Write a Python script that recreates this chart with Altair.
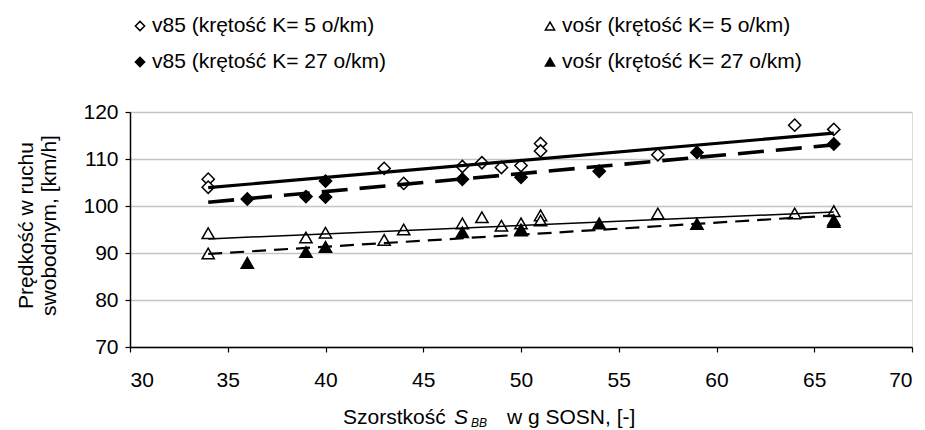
import altair as alt
import pandas as pd

# ---- data ----
x_v85_k5 = [34, 34, 43, 44, 47, 48, 49, 50, 51, 51, 57, 64, 66]
y_v85_k5 = [105.7, 104.0, 108.0, 104.8, 108.4, 109.2, 108.2, 108.6, 113.3, 111.7, 110.9, 117.2, 116.3]

x_v85_k27 = [36, 39, 40, 40, 47, 50, 54, 59, 66]
y_v85_k27 = [101.5, 102.0, 105.3, 101.9, 105.7, 106.1, 107.4, 111.4, 113.2]

x_vosr_k5 = [34, 34, 39, 40, 43, 44, 47, 48, 49, 50, 51, 51, 57, 64, 66]
y_vosr_k5 = [94.2, 89.9, 93.3, 94.3, 92.8, 95.0, 96.3, 97.6, 95.8, 96.3, 98.0, 96.9, 98.4, 98.4, 98.9]

x_vosr_k27 = [36, 39, 40, 47, 50, 50, 54, 59, 66, 66]
y_vosr_k27 = [87.9, 90.2, 91.3, 94.4, 95.0, 94.8, 96.3, 96.2, 97.0, 96.6]

trend_x = [34, 66]
trend_v85_k5 = [103.9, 115.5]
trend_v85_k27 = [100.8, 113.0]
trend_vosr_k5 = [93.0, 98.7]
trend_vosr_k27 = [89.8, 98.0]

legend_labels = [
    "v85 (krętość K= 5 o/km)",
    "vośr (krętość K= 5 o/km)",
    "v85 (krętość K= 27 o/km)",
    "vośr (krętość K= 27 o/km)",
]
y_title_lines = ["Prędkość w ruchu", "swobodnym, [km/h]"]
x_title_parts = ["Szorstkość", "S", "BB", "w g SOSN, [-]"]
x_ticks = [30, 35, 40, 45, 50, 55, 60, 65, 70]
y_ticks = [70, 80, 90, 100, 110, 120]

FONT = "Liberation Sans"
FS = 21
W, H = 782, 235

xs = alt.Scale(domain=[30, 70], nice=False, zero=False)
ys = alt.Scale(domain=[70, 120], nice=False, zero=False)

def pts(xv, yv):
    return pd.DataFrame({"x": xv, "y": yv})

X = alt.X("x:Q", scale=xs, axis=alt.Axis(values=x_ticks, title=None, grid=False, tickSize=5,
          tickColor="black", domainColor="black", domainWidth=1.5, tickWidth=1.2,
          labelFont=FONT, labelFontSize=FS, labelColor="black", labelPadding=17))
Y = alt.Y("y:Q", scale=ys, axis=alt.Axis(values=y_ticks, title=None, grid=True, gridColor="#c4c4c4",
          gridWidth=1.5, tickSize=5, tickColor="black", domainColor="black", domainWidth=1.5,
          tickWidth=1.2, labelFont=FONT, labelFontSize=FS, labelColor="black", labelPadding=7))

def line(yv, width, dash=None):
    kw = dict(color="black", strokeWidth=width, clip=False)
    if dash:
        kw["strokeDash"] = dash
    return alt.Chart(pts(trend_x, yv)).mark_line(**kw).encode(x=X, y=Y)

def marker(xv, yv, shape, filled, size):
    return alt.Chart(pts(xv, yv)).mark_point(
        shape=shape, size=size, filled=True, opacity=1,
        fill="black" if filled else "white", stroke="black", strokeWidth=1.5
    ).encode(x=X, y=Y)

layers = [
    marker(x_v85_k5, y_v85_k5, "diamond", False, 150),
    marker(x_v85_k27, y_v85_k27, "diamond", True, 150),
    marker(x_vosr_k5, y_vosr_k5, "triangle-up", False, 150),
    marker(x_vosr_k27, y_vosr_k27, "triangle-up", True, 150),
    line(trend_v85_k5, 3.2),
    line(trend_v85_k27, 3.6, [26, 12]),
    line(trend_vosr_k5, 1.5),
    line(trend_vosr_k27, 2.2, [14, 8]),
]

one = pd.DataFrame({"a": [0]})

def txt(t, x, y, size=FS, align="left", angle=0, italic=False, baseline="middle"):
    kw = dict(text=t, font=FONT, fontSize=size, color="black", align=align, baseline=baseline)
    if angle:
        kw["angle"] = angle
    if italic:
        kw["fontStyle"] = "italic"
    return alt.Chart(one).mark_text(**kw).encode(x=alt.value(x), y=alt.value(y))

def sym(shape, filled, x, y):
    return alt.Chart(one).mark_point(
        shape=shape, size=85, filled=True, opacity=1,
        fill="black" if filled else "white", stroke="black", strokeWidth=1.5
    ).encode(x=alt.value(x), y=alt.value(y))

# legend (coordinates relative to plot origin at (130,112))
layers += [
    sym("diamond", False, 10, -86), txt(legend_labels[0], 22, -86),
    sym("triangle-up", False, 420, -86), txt(legend_labels[1], 432, -86),
    sym("diamond", True, 10, -50), txt(legend_labels[2], 22, -50),
    sym("triangle-up", True, 420, -50), txt(legend_labels[3], 432, -50),
]
# y title
layers += [
    txt(y_title_lines[0], -103, H / 2 - 4, angle=270, align="center"),
    txt(y_title_lines[1], -80, H / 2 - 4, angle=270, align="center"),
]
# x title
layers += [
    txt(x_title_parts[0], 213, 312, baseline="alphabetic"),
    txt(x_title_parts[1], 324, 312, italic=True, baseline="alphabetic"),
    txt(x_title_parts[2], 341, 315, size=12, italic=True, baseline="alphabetic"),
    txt(x_title_parts[3], 377, 312, baseline="alphabetic"),
]

chart = alt.layer(*layers).properties(
    width=W, height=H,
    autosize=alt.AutoSizeParams(type="none"),
    padding={"left": 130, "top": 112, "right": 13, "bottom": 83},
).configure_view(stroke="#8a8a8a", strokeWidth=1.5).configure(background="white")

chart.save("out.html", embed_options={"renderer": "svg", "actions": False})
